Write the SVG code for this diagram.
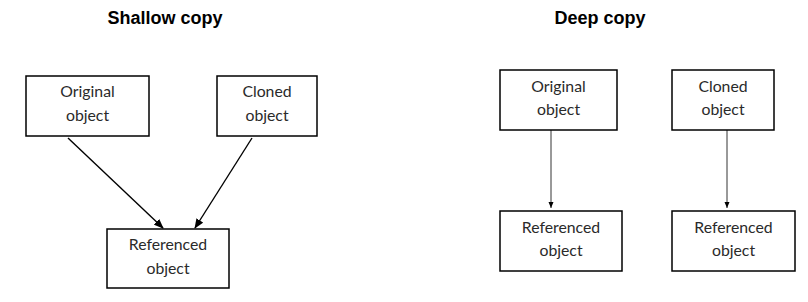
<svg xmlns="http://www.w3.org/2000/svg" width="808" height="302" viewBox="0 0 808 302">
<style>
.box{fill:#fff;stroke:#000;stroke-width:1.5}
.t{font-family:Lato,"Open Sans","Liberation Sans",sans-serif;font-size:15.8px;fill:#2a2a2a;text-anchor:middle}
.title{font-family:"Liberation Sans",Arial,sans-serif;font-size:18px;font-weight:bold;fill:#000;text-anchor:middle}
.c1{stroke:#000;stroke-width:1.4;fill:none}
.c2{stroke:#000;stroke-width:0.8;fill:none}
</style>
<defs>
<marker id="ah" markerWidth="10" markerHeight="8" refX="9" refY="4" orient="auto" markerUnits="userSpaceOnUse">
<path d="M0,0 L10,4 L0,8 Z" fill="#000"/>
</marker>
<marker id="ah2" markerWidth="6" markerHeight="6" refX="6" refY="3" orient="auto" markerUnits="userSpaceOnUse">
<path d="M0,0.5 L6,3 L0,5.5 Z" fill="#000"/>
</marker>
</defs>
<rect width="808" height="302" fill="#fff"/>
<text class="title" x="165" y="23.5">Shallow copy</text>
<text class="title" x="600" y="23.5">Deep copy</text>
<g id="connectors">
<line class="c1" x1="68" y1="138" x2="163" y2="228" marker-end="url(#ah)"/>
<line class="c1" x1="252" y1="138" x2="195" y2="228" marker-end="url(#ah)"/>
<line class="c2" x1="551" y1="130" x2="551" y2="208" marker-end="url(#ah2)"/>
<line class="c2" x1="727" y1="130" x2="727" y2="208" marker-end="url(#ah2)"/>
</g>
<g id="s-original">
<rect class="box" x="26" y="76" width="123" height="60"/>
<text class="t" x="87.5" y="97">Original</text>
<text class="t" x="87.5" y="121">object</text>
</g>
<g id="s-cloned">
<rect class="box" x="217" y="76" width="100" height="60"/>
<text class="t" x="267" y="97">Cloned</text>
<text class="t" x="267" y="121">object</text>
</g>
<g id="s-referenced">
<rect class="box" x="107" y="229" width="122" height="59"/>
<text class="t" x="168" y="250">Referenced</text>
<text class="t" x="168" y="274">object</text>
</g>
<g id="d-original">
<rect class="box" x="500" y="70" width="117" height="60"/>
<text class="t" x="558.5" y="92">Original</text>
<text class="t" x="558.5" y="115">object</text>
</g>
<g id="d-cloned">
<rect class="box" x="672" y="70" width="102" height="60"/>
<text class="t" x="723" y="92">Cloned</text>
<text class="t" x="723" y="115">object</text>
</g>
<g id="d-referenced1">
<rect class="box" x="500" y="211" width="122" height="60"/>
<text class="t" x="561" y="233">Referenced</text>
<text class="t" x="561" y="256">object</text>
</g>
<g id="d-referenced2">
<rect class="box" x="672" y="211" width="123" height="60"/>
<text class="t" x="733.5" y="233">Referenced</text>
<text class="t" x="733.5" y="256">object</text>
</g>
</svg>
